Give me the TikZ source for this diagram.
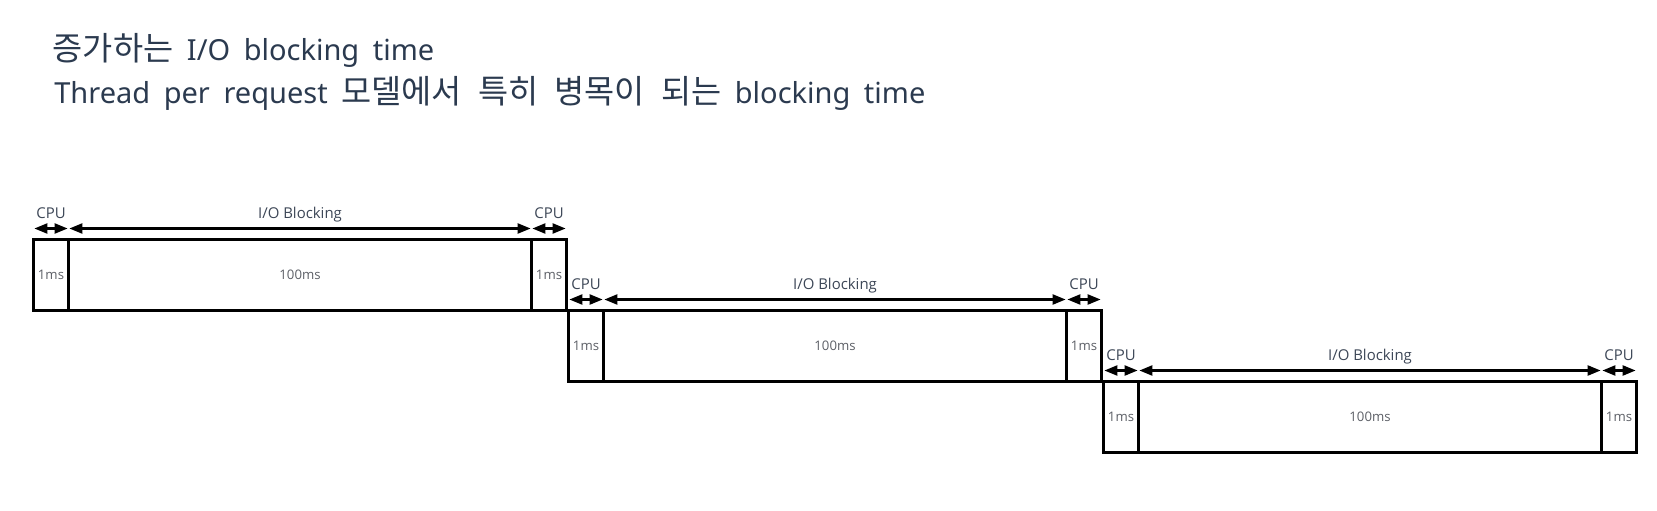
\documentclass[tikz,border=0pt]{standalone}
\usepackage{fontspec}
\newfontfamily\latinfont[WordSpace=1.8]{Noto Sans}
\newfontfamily\krfont[Scale=1.13, WordSpace=2.2]{Noto Sans CJK KR}
\newfontfamily\lblfont{Open Sans}
\usetikzlibrary{arrows.meta, positioning, calc}

\definecolor{titlecol}{HTML}{2B3A4F}
\definecolor{lblcol}{HTML}{3C4656}
\definecolor{mscol}{HTML}{5C5F66}

\tikzset{
  slot/.style={draw, line width=1.3pt, minimum height=1.42cm, inner sep=0pt, outer sep=0pt,
    font=\lblfont\fontsize{7.5}{9}\selectfont, text=mscol},
  cpuslot/.style={slot, minimum width=0.7cm},
  ioslot/.style={slot, minimum width=9.26cm},
  dimline/.style={{Triangle[length=0.26cm, width=0.2cm]}-{Triangle[length=0.26cm, width=0.2cm]},
    line width=1.3pt, shorten <=0.5pt, shorten >=0.5pt},
  spanlabel/.style={font=\lblfont\fontsize{8.5}{10}\selectfont, text=lblcol, inner sep=0pt, anchor=base},
  headline/.style={font=\latinfont\fontsize{16.5}{20}\selectfont, text=titlecol, inner sep=0pt, anchor=base west}
}

\begin{document}
\begin{tikzpicture}
\useasboundingbox (0,0) rectangle (33.14,-10.22);

% title
\node[headline] (head1) at (1.05,-1.21) {{\krfont 증가하는} I/O blocking time};
\node[headline] (head2) at (1.08,-2.07) {Thread per request {\krfont 모델에서 특히 병목이 되는} blocking time};

% one request per row: CPU - I/O blocking - CPU
\foreach \i in {0,1,2} {
  \node[cpuslot, anchor=north west] (cpuA\i) at ({0.67+10.7*\i},{-4.79-1.42*\i}) {1ms};
  \node[ioslot, right=0pt of cpuA\i] (io\i) {100ms};
  \node[cpuslot, right=0pt of io\i] (cpuB\i) {1ms};

  \draw[dimline] ([yshift=0.22cm]cpuA\i.north west) -- ([yshift=0.22cm]cpuA\i.north east);
  \draw[dimline] ([yshift=0.22cm]io\i.north west) -- ([yshift=0.22cm]io\i.north east);
  \draw[dimline] ([yshift=0.22cm]cpuB\i.north west) -- ([yshift=0.22cm]cpuB\i.north east);

  \node[spanlabel] (cpuLabA\i) at ($(cpuA\i.north)+(0,0.43)$) {CPU};
  \node[spanlabel] (ioLab\i) at ($(io\i.north)+(0,0.43)$) {I/O Blocking};
  \node[spanlabel] (cpuLabB\i) at ($(cpuB\i.north)+(0,0.43)$) {CPU};
}
\end{tikzpicture}
\end{document}
